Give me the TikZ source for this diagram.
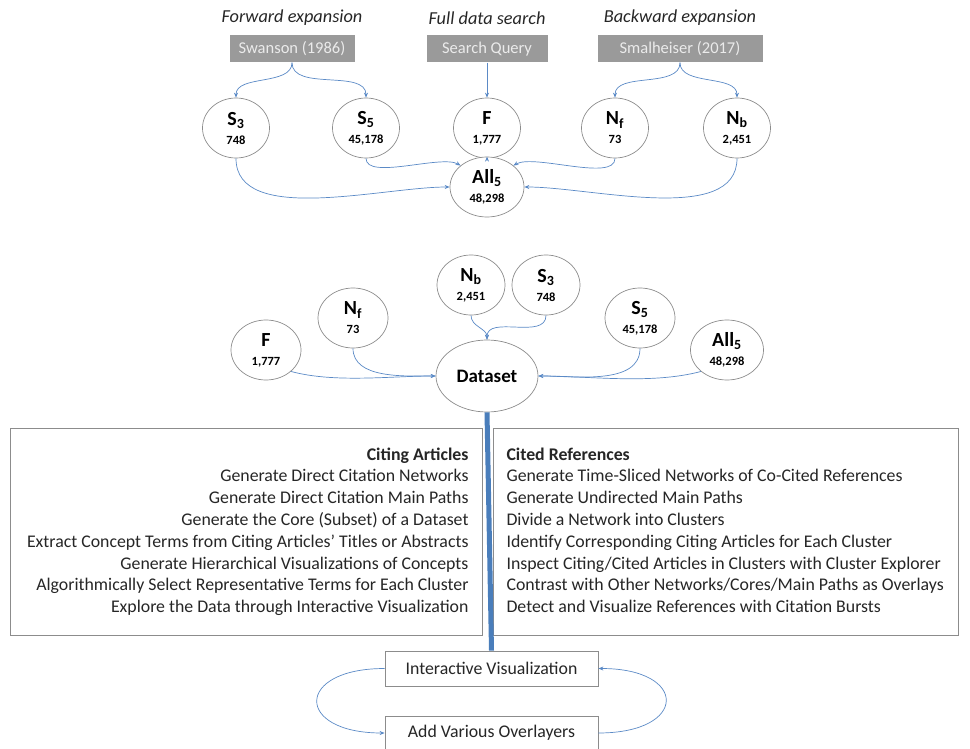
\documentclass[tikz,border=0pt]{standalone}
\usepackage{fontspec}
\setmainfont{Carlito}
\usetikzlibrary{arrows.meta,shapes.geometric}
\definecolor{conn}{HTML}{5B8AC6}
\definecolor{barblue}{HTML}{4A7EBB}
\definecolor{boxgray}{HTML}{9A9A9A}
\definecolor{edge}{HTML}{8C8C8C}
\tikzset{
  el/.style={ellipse,draw=edge,line width=0.7pt,fill=white,minimum width=67pt,minimum height=60pt,inner sep=0pt,align=center},
  gbox/.style={rectangle,fill=boxgray,text=white!92!black,minimum width=#1,minimum height=27pt,inner sep=0pt,font=\fontsize{16.5}{16.5}\selectfont},
  ttl/.style={font=\fontsize{18.3}{18.3}\selectfont\itshape,text=black!85},
  cn/.style={draw=conn,line width=0.7pt,-{Stealth[length=5pt,width=4pt]}},
  wbox/.style={rectangle,draw=edge,line width=0.8pt,fill=white,inner sep=0pt},
  lbl/.style={font=\fontsize{17.8}{17.8}\selectfont,text=black!85}
}
\newcommand{\elt}[2]{{\fontsize{20}{20}\selectfont\bfseries #1}\\[7pt]{\fontsize{12.5}{12.5}\selectfont\bfseries #2}}
\begin{document}
\begin{tikzpicture}[x=1pt,y=-1pt]
\useasboundingbox (0,0) rectangle (970,749);
% titles
\node[ttl] (t1) at (292,18) {Forward expansion};
\node[ttl] (t2) at (487,18) {Full data search};
\node[ttl] (t3) at (680,18) {Backward expansion};
\node[gbox=125pt] (sw) at (292,49) {Swanson (1986)};
\node[gbox=121pt] (sq) at (487,49) {Search Query};
\node[gbox=165pt] (sm) at (680,49) {Smalheiser (2017)};
% row 1
\node[el] (a3) at (236,128) {\elt{S\textsubscript{3}}{748}};
\node[el] (a5) at (366,128) {\elt{S\textsubscript{5}}{45,178}};
\node[el] (af) at (487,128) {\elt{F}{1,777}};
\node[el] (anf) at (615,128) {\elt{N\textsubscript{f}}{73}};
\node[el] (anb) at (737,128) {\elt{N\textsubscript{b}}{2,451}};
\node[el,minimum width=74pt] (all) at (487,187) {\elt{All\textsubscript{5}}{48,298}};
\draw[cn] (sw.south) to[out=-90,in=90,looseness=0.9] (a3.north);
\draw[cn] (sw.south) to[out=-90,in=90,looseness=0.9] (a5.north);
\draw[cn] (sq.south) -- (af.north);
\draw[cn] (sm.south) to[out=-90,in=90,looseness=0.9] (anf.north);
\draw[cn] (sm.south) to[out=-90,in=90,looseness=0.9] (anb.north);
\draw[cn] (a3.south) to[out=-90,in=180,looseness=0.8] (all.west);
\draw[cn] (a5.south) to[out=-90,in=150,looseness=0.6] (all.north west);
\draw[cn] (af.south) -- (all.north);
\draw[cn] (anf.south) to[out=-90,in=30,looseness=0.6] (all.north east);
\draw[cn] (anb.south) to[out=-90,in=0,looseness=0.8] (all.east);
% row 2
\node[el,minimum width=70pt] (bf) at (266,350) {\elt{F}{1,777}};
\node[el,minimum width=70pt] (bnf) at (353,318) {\elt{N\textsubscript{f}}{73}};
\node[el,minimum width=68pt] (bnb) at (471,285) {\elt{N\textsubscript{b}}{2,451}};
\node[el,minimum width=68pt] (b3) at (546,285) {\elt{S\textsubscript{3}}{748}};
\node[el,minimum width=70pt] (b5) at (640,318) {\elt{S\textsubscript{5}}{45,178}};
\node[el,minimum width=73pt] (ball) at (727,350) {\elt{All\textsubscript{5}}{48,298}};
\node[el,minimum width=102pt,minimum height=72pt,font=\fontsize{19}{19}\selectfont\bfseries] (ds) at (487,376) {Dataset};
\draw[cn] (bf.south east) to[out=-15,in=180,looseness=0.8] (ds.west);
\draw[cn] (bnf.south) to[out=-90,in=180,looseness=0.9] (ds.west);
\draw[cn] (bnb.south) to[out=-90,in=90,looseness=1] (ds.north);
\draw[cn] (b3.south) to[out=-90,in=90,looseness=1] (ds.north);
\draw[cn] (b5.south) to[out=-90,in=0,looseness=0.9] (ds.east);
\draw[cn] (ball.south west) to[out=195,in=0,looseness=0.8] (ds.east);
% boxes
\node[wbox,minimum width=472pt,minimum height=207pt] (lb) at (246,531.5) {};
\node[wbox,minimum width=465pt,minimum height=207pt] (rb) at (725.5,531.5) {};
\node[lbl,anchor=north east,align=right,font=\fontsize{17.8}{21.8}\selectfont] (lt) at (472,444) {\textbf{Citing Articles}\\
Generate Direct Citation Networks\\
Generate Direct Citation Main Paths\\
Generate the Core (Subset) of a Dataset\\
Extract Concept Terms from Citing Articles’ Titles or Abstracts\\
Generate Hierarchical Visualizations of Concepts\\
Algorithmically Select Representative Terms for Each Cluster\\
Explore the Data through Interactive Visualization};
\node[lbl,anchor=north west,align=left,font=\fontsize{17.8}{21.8}\selectfont] (rt) at (503,444) {\textbf{Cited References}\\
Generate Time-Sliced Networks of Co-Cited References\\
Generate Undirected Main Paths\\
Divide a Network into Clusters\\
Identify Corresponding Citing Articles for Each Cluster\\
Inspect Citing/Cited Articles in Clusters with Cluster Explorer\\
Contrast with Other Networks/Cores/Main Paths as Overlays\\
Detect and Visualize References with Citation Bursts};
% bottom
\node[wbox,minimum width=213pt,minimum height=35pt,lbl] (iv) at (491.5,668.5) {Interactive Visualization};
\node[wbox,minimum width=213pt,minimum height=33pt,lbl] (ao) at (491.5,733) {Add Various Overlayers};
\draw[draw=barblue,line width=5pt] (ds.south) -- (iv.north);
\draw[cn] (iv.west) .. controls +(-90,0) and +(-90,0) .. (ao.west);
\draw[cn] (ao.east) .. controls +(90,0) and +(90,0) .. (iv.east);
\end{tikzpicture}
\end{document}
